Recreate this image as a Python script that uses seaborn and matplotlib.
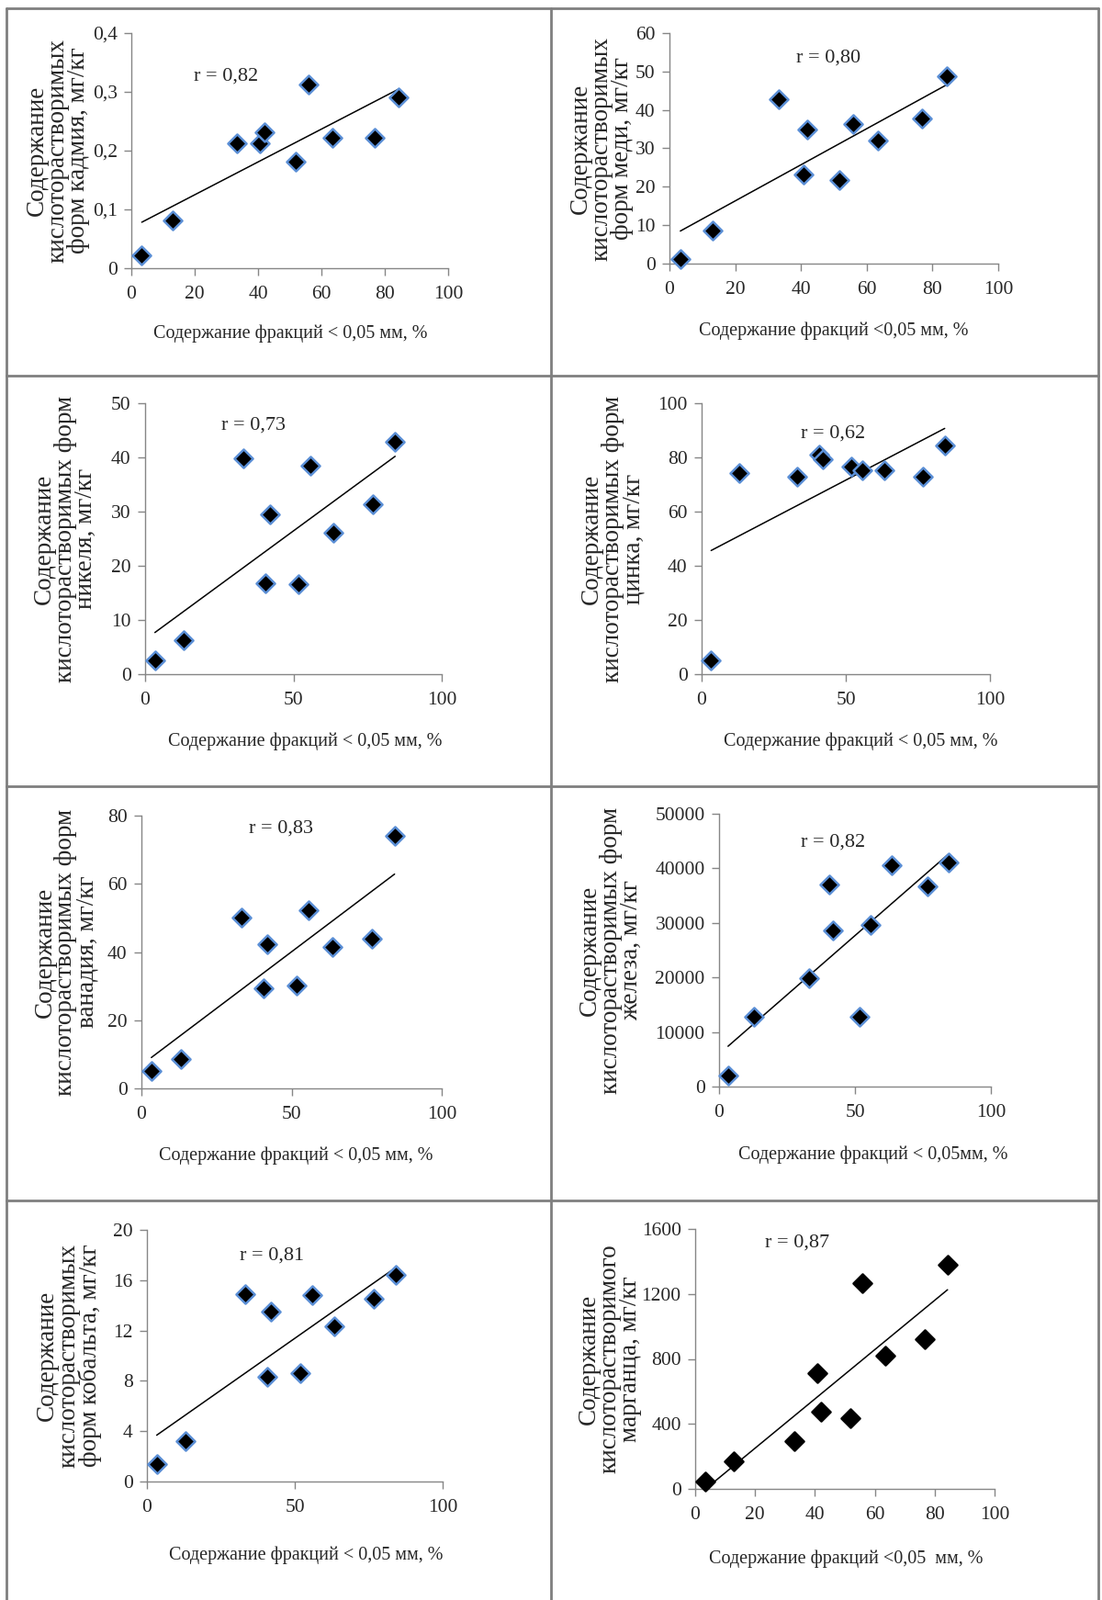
import numpy as np
import pandas as pd
import seaborn as sns
import matplotlib.pyplot as plt
from matplotlib.lines import Line2D
from matplotlib.ticker import FuncFormatter, MultipleLocator

sns.set_style('white')
plt.rcParams['font.family'] = ['Liberation Serif', 'DejaVu Serif']

# fraction < 0.05 mm, % (same samples on every panel)
fraction = [3.3, 13.0, 33.2, 40.7, 42.0, 51.8, 55.8, 63.5, 76.7, 84.3]

# acid-soluble forms, mg/kg
cadmium = [0.022, 0.082, 0.212, 0.212, 0.231, 0.182, 0.312, 0.222, 0.222, 0.290]
copper = [1.1, 8.6, 42.9, 23.2, 35.0, 21.8, 36.3, 32.0, 37.7, 48.8]
nickel = [2.5, 6.2, 39.8, 16.8, 29.5, 16.6, 38.4, 26.1, 31.3, 42.8]
zinc = [5.1, 74.2, 72.8, 81.0, 79.3, 76.5, 75.1, 75.1, 72.8, 84.4]
vanadium = [5.1, 8.7, 50.0, 29.4, 42.2, 30.1, 52.2, 41.4, 43.9, 74.0]
iron = [2070, 12720, 19840, 37110, 28590, 12780, 29710, 40580, 36770, 41030]
cobalt = [1.4, 3.2, 14.9, 8.3, 13.5, 8.6, 14.8, 12.3, 14.5, 16.4]
manganese = [47, 170, 292, 713, 474, 436, 1264, 817, 921, 1379]

r_labels = ['r = 0,82', 'r = 0,80', 'r = 0,73', 'r = 0,62',
            'r = 0,83', 'r = 0,82', 'r = 0,81', 'r = 0,87']

y_labels = [
    'Содержание\nкислоторастворимых\nформ кадмия, мг/кг',
    'Содержание\nкислоторастворимых\nформ меди, мг/кг',
    'Содержание\nкислоторастворимых форм\nникеля, мг/кг',
    'Содержание\nкислоторастворимых форм\nцинка, мг/кг',
    'Содержание\nкислоторастворимых форм\nванадия, мг/кг',
    'Содержание\nкислоторастворимых форм\nжелеза, мг/кг',
    'Содержание\nкислоторастворимых\nформ кобальта, мг/кг',
    'Содержание\nкислоторастворимого\nмарганца, мг/кг',
]
x_labels = [
    'Содержание фракций < 0,05 мм, %',
    'Содержание фракций <0,05 мм, %',
    'Содержание фракций < 0,05 мм, %',
    'Содержание фракций < 0,05 мм, %',
    'Содержание фракций < 0,05 мм, %',
    'Содержание фракций < 0,05мм, %',
    'Содержание фракций < 0,05 мм, %',
    'Содержание фракций <0,05  мм, %',
]

y_max = [0.4, 60, 50, 100, 80, 50000, 20, 1600]
y_step = [0.1, 10, 10, 20, 20, 10000, 4, 400]
x_step = [20, 20, 50, 50, 50, 50, 50, 20]

series = [cadmium, copper, nickel, zinc, vanadium, iron, cobalt, manganese]

# layout in pixels: axes box (left, right, top, bottom)
W, H = 1200, 1742
boxes = [(143, 488, 36, 292), (729, 1087, 36, 287),
         (158, 481, 439, 734), (764, 1078, 439, 734),
         (154, 481, 888, 1185), (783, 1079, 886, 1183),
         (160, 482, 1339, 1613), (757, 1083, 1338, 1621)]
ylab_x = [63, 655, 71, 667, 72, 665, 75, 664]
xlab_pos = [(316, 363), (908, 360), (332, 807), (937, 807),
            (322, 1258), (951, 1257), (333, 1693), (921, 1697)]
r_pos = [(0.30, 0.816), (0.483, 0.892), (0.365, 0.919), (0.457, 0.888),
         (0.465, 0.953), (0.419, 0.896), (0.422, 0.898), (0.340, 0.947)]

fig = plt.figure(figsize=(12, 17.42), dpi=100)
grey = '#868686'
comma = FuncFormatter(lambda v, p: f'{v:g}'.replace('.', ','))

for i, vals in enumerate(series):
    l, r, t, b = boxes[i]
    ax = fig.add_axes([l / W, 1 - b / H, (r - l) / W, (b - t) / H])
    df = pd.DataFrame({'x': fraction, 'y': vals})
    sns.regplot(data=df, x='x', y='y', scatter=False, ci=None, color='black',
                line_kws={'linewidth': 1.1}, ax=ax)
    edge = 'black' if i == 7 else '#5b8fd6'
    sns.scatterplot(data=df, x='x', y='y', marker='D', s=105, color='black',
                    edgecolor=edge, linewidth=1.8, ax=ax, zorder=3, clip_on=False)
    ax.set_xlim(0, 100)
    ax.set_ylim(0, y_max[i])
    ax.xaxis.set_major_locator(MultipleLocator(x_step[i]))
    ax.yaxis.set_major_locator(MultipleLocator(y_step[i]))
    ax.yaxis.set_major_formatter(comma)
    ax.set_xlabel('')
    ax.set_ylabel('')
    for s in ['top', 'right']:
        ax.spines[s].set_visible(False)
    for s in ['left', 'bottom']:
        ax.spines[s].set_color(grey)
        ax.spines[s].set_linewidth(1)
    ax.tick_params(direction='out', length=6, width=1, color=grey,
                   labelsize=15.5, pad=5, left=True, bottom=True)
    ax.tick_params(axis='x', pad=8)
    ax.text(r_pos[i][0], r_pos[i][1], r_labels[i], transform=ax.transAxes,
            ha='center', va='center', fontsize=16)
    fig.text(ylab_x[i] / W, 1 - (t + b) / 2 / H, y_labels[i], rotation=90,
             ha='center', va='center', multialignment='center',
             fontsize=19.5, linespacing=0.88)
    fig.text(xlab_pos[i][0] / W, 1 - xlab_pos[i][1] / H, x_labels[i],
             ha='center', va='center', fontsize=14.5)

# panel frames
frame = dict(color='#7f7f7f', linewidth=2, transform=fig.transFigure)
for xv in [7, 600, 1196]:
    fig.add_artist(Line2D([xv / W, xv / W], [1 - 9 / H, 0], **frame))
for yv in [9, 409, 856, 1307]:
    fig.add_artist(Line2D([7 / W, 1196 / W], [1 - yv / H, 1 - yv / H], **frame))

fig.savefig('out.png', dpi=100, facecolor='white')
